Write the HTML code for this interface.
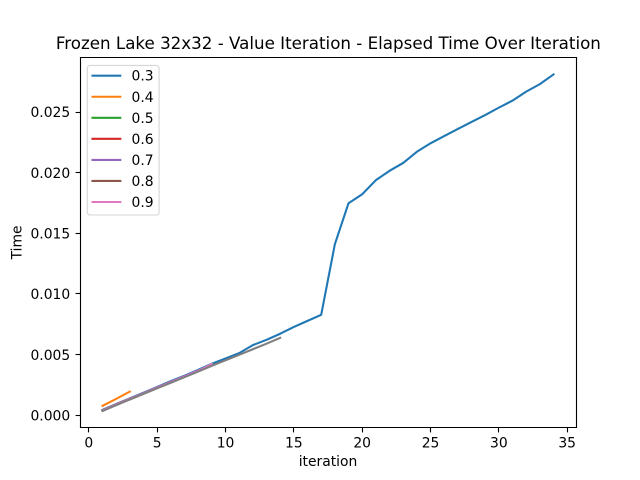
<!DOCTYPE html>
<html>
<head>
<meta charset="utf-8">
<title>Frozen Lake 32x32 - Value Iteration - Elapsed Time Over Iteration</title>
<style>
html,body{margin:0;padding:0;background:#fff;}
svg{display:block;}
text{font-family:"DejaVu Sans",sans-serif;fill:#000;}
</style>
</head>
<body>
<svg id="chart" xmlns="http://www.w3.org/2000/svg" width="640" height="480" viewBox="0 0 640 480">
<rect x="0" y="0" width="640" height="480" fill="#fff"/>
<text x="328.4" y="49" font-size="16.67" text-anchor="middle" textLength="545" lengthAdjust="spacingAndGlyphs">Frozen Lake 32x32 - Value Iteration - Elapsed Time Over Iteration</text>
<text x="328" y="466" font-size="13.89" text-anchor="middle">iteration</text>
<text transform="translate(21.5,242.4) rotate(-90)" font-size="13.89" text-anchor="middle">Time</text>
<g id="series-layer"></g>
<g id="ticks-layer"></g>
<g id="spines" stroke="#000" stroke-width="1.11" fill="none">
<line x1="80.5" y1="57.5" x2="80.5" y2="427.5" stroke-linecap="square"/>
<line x1="576.5" y1="57.5" x2="576.5" y2="427.5" stroke-linecap="square"/>
<line x1="80.5" y1="57.5" x2="576.5" y2="57.5" stroke-linecap="square"/>
<line x1="80.5" y1="427.5" x2="576.5" y2="427.5" stroke-linecap="square"/>
</g>
<g id="legend">
<rect x="87.3" y="65.4" width="71.8" height="149.6" rx="2.8" ry="2.8" fill="#fff" fill-opacity="0.8" stroke="#d6d6d6" stroke-width="1.11"/>
</g>
</svg>
<script>
var legendLabels = ['0.3', '0.4', '0.5', '0.6', '0.7', '0.8', '0.9'];
var seriesColors = ['#1f77b4', '#ff7f0e', '#2ca02c', '#d62728', '#9467bd', '#8c564b', '#e377c2', '#7f7f7f'];
var seriesNames = ['0.3', '0.4', '0.5', '0.6', '0.7', '0.8', '0.9', '1.0'];
var xTicks = [0, 5, 10, 15, 20, 25, 30, 35];
var yTicks = [0, 0.005, 0.01, 0.015, 0.02, 0.025];
var yTickLabels = ['0.000', '0.005', '0.010', '0.015', '0.020', '0.025'];

var values03 = [0.00045, 0.00092, 0.00139, 0.00186, 0.00233, 0.00282, 0.00326, 0.00374, 0.00425, 0.00468, 0.00512, 0.00578, 0.00622, 0.00672, 0.00728, 0.00778, 0.00828, 0.0141, 0.01748, 0.01822, 0.01938, 0.02015, 0.0208, 0.02172, 0.02242, 0.02302, 0.0236, 0.02418, 0.02475, 0.02536, 0.02594, 0.02668, 0.0273, 0.0281];
var values04 = [0.00078, 0.00135, 0.00195];
var values05 = [0.0004, 0.00088, 0.00135, 0.0018];
var values06 = [0.0004, 0.00088, 0.00135, 0.0018, 0.00228];
var values07 = [0.0004, 0.00088, 0.00135, 0.00182, 0.0023, 0.00276, 0.00322, 0.0037];
var values08 = [0.0004, 0.00088, 0.00134, 0.0018, 0.00226, 0.00272];
var values09 = [0.0004, 0.00087, 0.00134, 0.0018, 0.00226, 0.00272, 0.00318, 0.00365, 0.00422];
var values10 = [0.00035, 0.00083, 0.0013, 0.00176, 0.00222, 0.00268, 0.00314, 0.0036, 0.00408, 0.00453, 0.00498, 0.00544, 0.0059, 0.00638];
var allSeries = [values03, values04, values05, values06, values07, values08, values09, values10];

var NS = 'http://www.w3.org/2000/svg';
function xScale(v) { return 88.85 + v * 13.667; }
function yScale(v) { return 415.25 - v * 12130; }
function make(tag, attrs, parent) {
  var el = document.createElementNS(NS, tag);
  for (var k in attrs) { el.setAttribute(k, attrs[k]); }
  parent.appendChild(el);
  return el;
}

var seriesLayer = document.getElementById('series-layer');
allSeries.forEach(function (vals, s) {
  var pts = vals.map(function (v, i) {
    return xScale(i + 1).toFixed(2) + ',' + yScale(v).toFixed(2);
  }).join(' ');
  var line = make('polyline', {points: pts, fill: 'none', stroke: seriesColors[s], 'stroke-width': 2.08, 'stroke-linejoin': 'round', 'stroke-linecap': 'square'}, seriesLayer);
  
  
});

var ticksLayer = document.getElementById('ticks-layer');
xTicks.forEach(function (t) {
  var px = Math.round(xScale(t) - 0.5) + 0.5;
  var tick = make('line', {x1: px, y1: 427.5, x2: px, y2: 432.4, stroke: '#000', 'stroke-width': 1.11}, ticksLayer);
  
  
  var label = make('text', {x: xScale(t), y: 447.3, 'font-size': 13.89, 'text-anchor': 'middle'}, ticksLayer);
  label.textContent = String(t);
  
  
});
yTicks.forEach(function (t, i) {
  var py = Math.round(yScale(t) - 0.5) + 0.5;
  var tick = make('line', {x1: 75.6, y1: py, x2: 80.5, y2: py, stroke: '#000', 'stroke-width': 1.11}, ticksLayer);
  
  
  var label = make('text', {x: 70.2, y: yScale(t) + 5.2, 'font-size': 13.89, 'text-anchor': 'end'}, ticksLayer);
  label.textContent = yTickLabels[i];
  
  
});

var legend = document.getElementById('legend');
legendLabels.forEach(function (name, i) {
  var rowY = 75.7 + i * 21.05;
  var handle = make('line', {x1: 92.5, y1: rowY, x2: 120.3, y2: rowY, stroke: seriesColors[i], 'stroke-width': 2.08, 'stroke-linecap': 'square'}, legend);
  
  
  var text = make('text', {x: 131.5, y: rowY + 5, 'font-size': 13.89}, legend);
  text.textContent = name;
  
  
});
</script>
</body>
</html>
